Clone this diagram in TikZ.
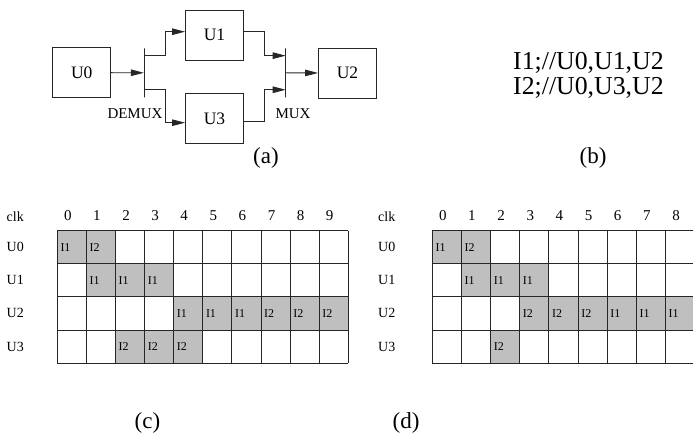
\documentclass[tikz,border=0pt]{standalone}
\usepackage{fontspec}
\setmainfont{Liberation Serif}
\usetikzlibrary{arrows.meta}
\begin{document}
\begin{tikzpicture}[x=1pt,y=-1pt,
  box/.style={draw=black!85,line width=0.9pt,minimum width=58pt,minimum height=50pt,inner sep=0pt,font=\fontsize{17.5}{20}\selectfont},
  bar/.style={draw=black!85,line width=0.9pt,minimum width=0pt,minimum height=49pt,inner sep=0pt},
  arr/.style={draw=black!85,line width=0.9pt,-{Triangle[length=13pt,width=6.5pt]}},
  lbl/.style={inner sep=0pt,font=\fontsize{15}{18}\selectfont},
  captxt/.style={inner sep=0pt,font=\fontsize{23}{26}\selectfont},
  rowlbl/.style={inner sep=0pt,anchor=west,font=\fontsize{14}{16}\selectfont},
  numlbl/.style={inner sep=0pt,font=\fontsize{15}{17}\selectfont},
  celltxt/.style={inner sep=0pt,anchor=west,font=\fontsize{12}{14}\selectfont},
  cellfill/.style={fill=black!25},
  gridline/.style={draw=black!85,line width=1pt}]
\clip (0,0) rectangle (693,435);
\fill[white] (0,0) rectangle (693,435);

% ---------- (a) block diagram ----------
\node[box] (U0) at (81.7,72.7) {U0};
\node[box] (U1) at (214.5,35) {U1};
\node[box] (U3) at (214.5,118.3) {U3};
\node[box] (U2) at (347.5,73) {U2};
\node[bar] (dm) at (144.3,72.8) {};
\node[bar] (mx) at (285.7,72.8) {};
\draw[arr] (U0.east) -- (dm.west);
\draw[arr] ([yshift=-7.8pt]dm.north) -- ++(20.7,0) |- ([yshift=3.3pt]U1.west);
\draw[arr] ([yshift=8pt]dm.south) -- ++(20.7,0) |- ([yshift=-4.4pt]U3.west);
\draw[arr] ([yshift=3.3pt]U1.east) -- ++(20.7,0) |- ([yshift=-7.8pt]mx.north);
\draw[arr] ([yshift=-3.4pt]U3.east) -- ++(20.7,0) |- ([yshift=8pt]mx.south);
\draw[arr] (mx.east) -- (U2.west);
\node[lbl] (demux) at (135,113.5) {DEMUX};
\node[lbl] (mux) at (293,113.3) {MUX};
\node[captxt] (capa) at (266,157.5) {(a)};

% ---------- (b) ----------
\node[inner sep=0pt,anchor=base west,font=\fontsize{25.8}{28}\selectfont] (b1) at (513,69.3) {I1;//U0,U1,U2};
\node[inner sep=0pt,anchor=base west,font=\fontsize{25.8}{28}\selectfont] (b2) at (513,95) {I2;//U0,U3,U2};
\node[captxt] (capb) at (593,158) {(b)};

% ---------- (c) ----------
\foreach \c/\r/\t [count=\i] in {0/0/I1,1/0/I2,1/1/I1,2/1/I1,3/1/I1,4/2/I1,5/2/I1,6/2/I1,7/2/I2,8/2/I2,9/2/I2,2/3/I2,3/3/I2,4/3/I2}{
  \fill[cellfill] (57.3+29.1*\c,230.7+33.15*\r) rectangle ++(29.1,33.15);
  \node[celltxt] (ct\i) at (57.3+29.1*\c+3,230.7+33.15*\r+16.6) {\t};
}
\foreach \k in {0,...,10}{\draw[gridline] (57.3+29.1*\k,230.7) -- (57.3+29.1*\k,363.3);}
\foreach \k in {0,...,4}{\draw[gridline] (57.3,230.7+33.15*\k) -- (348.3,230.7+33.15*\k);}
\foreach \k in {0,...,9}{\node[numlbl] (cn\k) at (57.3+29.1*\k+10.5,216) {\k};}
\node[rowlbl] (cclk) at (6.5,216.5) {clk};
\foreach \u [count=\r from 0] in {U0,U1,U2,U3}{\node[rowlbl] (cu\r) at (6.5,247+33.15*\r) {\u};}
\node[captxt] (capc) at (147.5,422.5) {(c)};

% ---------- (d) ----------
\foreach \c/\r/\t [count=\i] in {0/0/I1,1/0/I2,1/1/I1,2/1/I1,3/1/I1,3/2/I2,4/2/I2,5/2/I2,6/2/I1,7/2/I1,8/2/I1,2/3/I2}{
  \fill[cellfill] (432.3+29.15*\c,230.7+33.15*\r) rectangle ++(29.15,33.15);
  \node[celltxt] (dt\i) at (432.3+29.15*\c+3,230.7+33.15*\r+16.6) {\t};
}
\foreach \k in {0,...,9}{\draw[gridline] (432.3+29.15*\k,230.7) -- (432.3+29.15*\k,363.3);}
\foreach \k in {0,...,4}{\draw[gridline] (432.3,230.7+33.15*\k) -- (694.7,230.7+33.15*\k);}
\foreach \k in {0,...,8}{\node[numlbl] (dn\k) at (432.3+29.15*\k+10.5,216) {\k};}
\node[rowlbl] (dclk) at (378,216.5) {clk};
\foreach \u [count=\r from 0] in {U0,U1,U2,U3}{\node[rowlbl] (du\r) at (378,247+33.15*\r) {\u};}
\node[captxt] (capd) at (406,422.5) {(d)};
\end{tikzpicture}
\end{document}
